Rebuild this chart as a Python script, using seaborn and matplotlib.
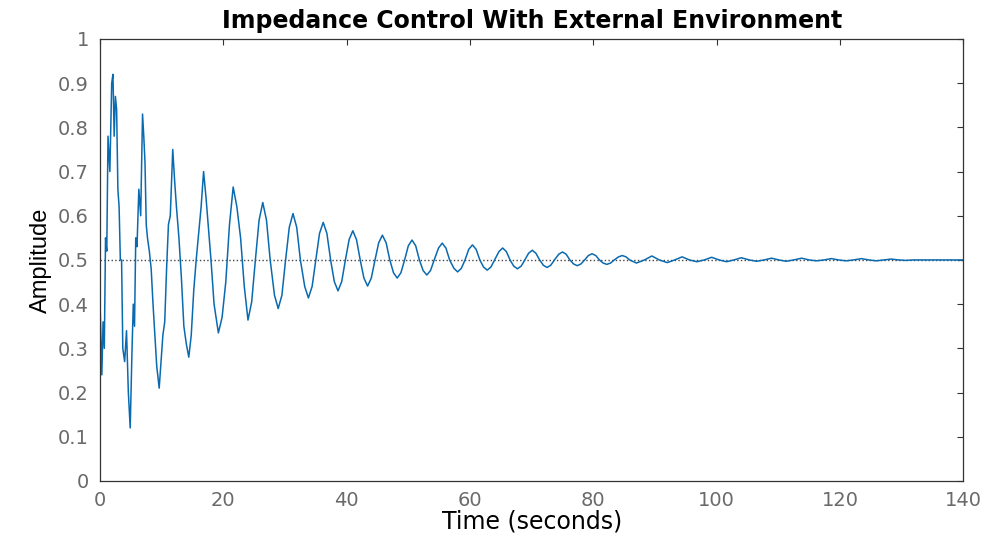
import pandas as pd
import matplotlib
matplotlib.use("Agg")
import matplotlib.pyplot as plt
import seaborn as sns

# (tiempo s, amplitud): tramo inicial con rizado
tramo_inicial = [
    (0.0, 0.0), (0.05, 0.38), (0.3, 0.24), (0.5, 0.36), (0.7, 0.30), (0.9, 0.55),
    (1.1, 0.52), (1.3, 0.78), (1.6, 0.70), (1.9, 0.90), (2.1, 0.92), (2.3, 0.78),
    (2.5, 0.87), (2.7, 0.84), (2.9, 0.66), (3.1, 0.62), (3.3, 0.50), (3.5, 0.50),
    (3.7, 0.30), (4.0, 0.27), (4.3, 0.34), (4.6, 0.20), (4.9, 0.12), (5.2, 0.30),
    (5.4, 0.40), (5.6, 0.35), (5.8, 0.55), (6.0, 0.53), (6.3, 0.66), (6.6, 0.60),
    (6.9, 0.83), (7.1, 0.78), (7.3, 0.72), (7.5, 0.58), (7.7, 0.55), (8.0, 0.52),
    (8.3, 0.48), (8.6, 0.40), (8.9, 0.33), (9.2, 0.26), (9.6, 0.21), (9.9, 0.27),
    (10.2, 0.33), (10.5, 0.36), (10.8, 0.48), (11.1, 0.58), (11.4, 0.60), (11.8, 0.75),
    (12.1, 0.68), (12.4, 0.62), (12.8, 0.55), (13.2, 0.46), (13.6, 0.35), (14.0, 0.31),
    (14.4, 0.28), (14.8, 0.33), (15.2, 0.43), (15.6, 0.50), (16.0, 0.56), (16.4, 0.62),
    (16.8, 0.70), (17.2, 0.64), (17.6, 0.57), (18.0, 0.50), (18.5, 0.40), (19.2, 0.335),
    (19.8, 0.37), (20.4, 0.45), (21.0, 0.58), (21.6, 0.665), (22.2, 0.62), (22.8, 0.55),
    (23.4, 0.44), (24.0, 0.364),
]

# oscilacion amortiguada: hombros, cruces, picos y valles
tramo_final = [
    (24.6, 0.405), (25.2, 0.50), (25.8, 0.59), (26.4, 0.63), (27.0, 0.59), (27.6, 0.50),
    (28.3, 0.42), (28.9, 0.39), (29.5, 0.42), (30.1, 0.50), (30.7, 0.574), (31.3, 0.605),
    (31.9, 0.574), (32.5, 0.50), (33.2, 0.44), (33.8, 0.414), (34.4, 0.44), (35.0, 0.50),
    (35.6, 0.56), (36.2, 0.585), (36.8, 0.56), (37.4, 0.50), (38.0, 0.451), (38.6, 0.430),
    (39.2, 0.451), (39.8, 0.50), (40.4, 0.546), (41.0, 0.566), (41.6, 0.546), (42.2, 0.50),
    (42.8, 0.459), (43.4, 0.441), (44.0, 0.459), (44.6, 0.50), (45.2, 0.539), (45.8, 0.556),
    (46.4, 0.539), (47.0, 0.50), (47.6, 0.471), (48.2, 0.459), (48.8, 0.471), (49.4, 0.50),
    (50.0, 0.532), (50.6, 0.545), (51.2, 0.532), (51.8, 0.50), (52.4, 0.476), (53.0, 0.466),
    (53.6, 0.476), (54.2, 0.50), (54.9, 0.527), (55.5, 0.538), (56.1, 0.527), (56.7, 0.50),
    (57.4, 0.481), (58.0, 0.473), (58.6, 0.481), (59.2, 0.50), (59.8, 0.524), (60.4, 0.534),
    (61.0, 0.524), (61.6, 0.50), (62.2, 0.484), (62.8, 0.477), (63.4, 0.484), (64.0, 0.50),
    (64.7, 0.519), (65.3, 0.527), (65.9, 0.519), (66.5, 0.50), (67.1, 0.486), (67.7, 0.480),
    (68.3, 0.486), (68.9, 0.50), (69.5, 0.515), (70.1, 0.522), (70.7, 0.515), (71.3, 0.50),
    (71.9, 0.488), (72.5, 0.483), (73.1, 0.488), (73.7, 0.50), (74.4, 0.513), (75.0, 0.518),
    (75.6, 0.513), (76.2, 0.50), (76.8, 0.491), (77.4, 0.487), (78.0, 0.491), (78.6, 0.50),
    (79.2, 0.510), (79.8, 0.514), (80.4, 0.510), (81.0, 0.50), (81.6, 0.493), (82.2, 0.490),
    (82.8, 0.493), (83.4, 0.50), (84.1, 0.507), (84.7, 0.510), (85.3, 0.507), (85.9, 0.50),
    (87.0, 0.493), (88.3, 0.50), (89.5, 0.509),
    (90.7, 0.50), (92.0, 0.494), (93.2, 0.50), (94.4, 0.507), (95.6, 0.50), (96.8, 0.496),
    (98.0, 0.50), (99.2, 0.506), (100.4, 0.50), (101.6, 0.496), (102.8, 0.50), (104.0, 0.505),
    (105.3, 0.50), (106.5, 0.497), (107.7, 0.50), (108.9, 0.504), (110.1, 0.50), (111.3, 0.497),
    (112.5, 0.50), (113.8, 0.504), (115.0, 0.50), (116.2, 0.498), (117.4, 0.50), (118.6, 0.503),
    (119.8, 0.50), (121.0, 0.498), (122.2, 0.50), (123.5, 0.503), (124.7, 0.50), (125.9, 0.498),
    (127.1, 0.50), (128.3, 0.502), (129.5, 0.50), (130.7, 0.499), (131.9, 0.50), (133.0, 0.50),
    (136.0, 0.50), (140.0, 0.50),
]

valor_final = 0.5
xticks = [0, 20, 40, 60, 80, 100, 120, 140]
yticks = [0, 0.1, 0.2, 0.3, 0.4, 0.5, 0.6, 0.7, 0.8, 0.9, 1]

df = pd.DataFrame(tramo_inicial + tramo_final, columns=["t", "y"])

sns.set_style("white")
plt.rcParams["font.family"] = ["DejaVu Sans"]

fig = plt.figure(figsize=(9.9, 5.41), dpi=100)
ax = fig.add_axes([0.101, 0.111, 0.872, 0.817])

ax.axhline(valor_final, color="#444444", linestyle=":", linewidth=1.0, zorder=1)
sns.lineplot(data=df, x="t", y="y", estimator=None, sort=False,
             color="#0a6ab0", linewidth=1.1, ax=ax, zorder=2)

ax.set_xlim(0, 140)
ax.set_ylim(0, 1)
ax.set_xticks(xticks)
ax.set_yticks(yticks)
ax.set_yticklabels([("%g" % v) for v in yticks])
ax.tick_params(direction="in", length=4, width=0.8, colors="#333333",
               labelcolor="#6a6a6a", labelsize=14, top=True, right=True)
ax.tick_params(axis="x", pad=7)
ax.tick_params(axis="y", pad=8)
for s in ax.spines.values():
    s.set_color("#333333")
    s.set_linewidth(0.9)

ax.set_title("Impedance Control With External Environment", fontsize=17,
             fontweight="bold", color="black", pad=8)
ax.set_xlabel("Time (seconds)", fontsize=17, color="black", labelpad=0)
ax.set_ylabel("Amplitude", fontsize=17, color="black",
              family=["Liberation Sans Narrow", "Liberation Sans", "DejaVu Sans"],
              labelpad=4)

fig.savefig("out.png", dpi=100)
